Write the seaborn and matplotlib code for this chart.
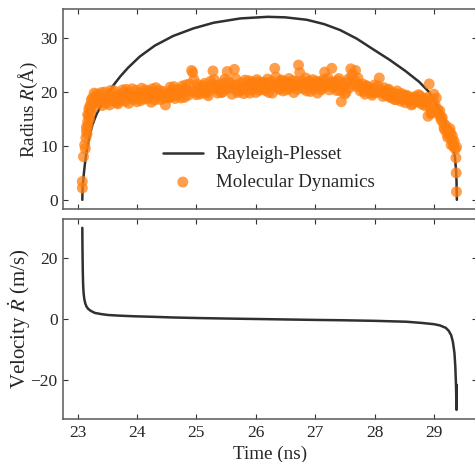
import matplotlib
matplotlib.use("Agg")
import matplotlib.pyplot as plt
import seaborn as sns
import pandas as pd

# ---------------- data ----------------
# Rayleigh-Plesset radius curve (Time ns, Radius Å)
rp_time = [23.08, 23.083, 23.09, 23.10, 23.12, 23.14, 23.165, 23.20, 23.25, 23.32,
           23.40, 23.50, 23.60, 23.72, 23.85, 24.05, 24.30, 24.61, 24.95, 25.29,
           25.74, 26.20, 26.50, 26.86, 27.15, 27.42, 27.70, 27.98, 28.25, 28.52,
           28.75, 28.91, 29.05, 29.15, 29.22, 29.28, 29.33, 29.355, 29.37, 29.38,
           29.386]
rp_radius = [0.0, 1.5, 3.0, 4.2, 6.3, 8.1, 9.8, 11.8, 13.9, 15.9,
             17.6, 19.5, 21.2, 22.9, 24.5, 26.6, 28.6, 30.4, 31.8, 32.85,
             33.65, 33.95, 33.85, 33.4, 32.6, 31.5, 29.9, 27.9, 26.0, 23.9,
             21.9, 20.1, 17.6, 15.5, 13.6, 11.7, 9.6, 7.8, 5.8, 3.5,
             0.0]

# Rayleigh-Plesset velocity curve (Time ns, Velocity m/s)
vel_time = [23.08, 23.082, 23.085, 23.088, 23.092, 23.097, 23.105, 23.115, 23.13, 23.15,
            23.18, 23.22, 23.29, 23.40, 23.52, 23.70, 23.94, 24.30, 24.60, 25.06,
            25.50, 26.00, 26.50, 27.00, 27.42, 28.00, 28.54, 28.80, 29.00, 29.10,
            29.20, 29.25, 29.29, 29.32, 29.345, 29.36, 29.372, 29.38, 29.383]
vel_value = [30.0, 25.0, 20.0, 16.0, 12.5, 10.0, 8.0, 6.5, 5.2, 4.2,
             3.4, 2.8, 2.1, 1.7, 1.4, 1.2, 1.0, 0.8, 0.6, 0.4,
             0.25, 0.1, -0.05, -0.2, -0.3, -0.5, -0.8, -1.2, -1.6, -2.0,
             -2.8, -3.8, -5.2, -7.5, -11.0, -15.5, -22.0, -29.7, -21.5]

# Molecular Dynamics radius samples (Time ns, Radius Å)
md_time = [23.08, 23.08, 23.10, 23.12, 23.13, 23.14, 23.15, 23.16, 23.17, 23.18,
           23.19, 23.20, 23.21, 23.22, 23.24, 23.26, 23.28, 23.30,
           23.15, 23.17, 23.19, 23.21, 23.23, 23.25, 23.27,
           23.32, 23.36, 23.40, 23.44, 23.48, 23.52, 23.56, 23.60, 23.64, 23.68,
           23.72, 23.76, 23.80, 23.84, 23.88, 23.92, 23.96, 24.00, 24.04, 24.08,
           24.12, 24.16, 24.20, 24.24, 24.28, 24.32, 24.36, 24.40, 24.44, 24.48,
           24.52, 24.56, 24.60, 24.64, 24.68, 24.72, 24.76, 24.80, 24.84, 24.88,
           24.92, 24.96, 25.00, 25.04, 25.08, 25.12, 25.16, 25.20, 25.24, 25.28,
           25.32, 25.36, 25.40, 25.44, 25.48, 25.52, 25.56, 25.60, 25.64, 25.68,
           25.72, 25.76, 25.80, 25.84, 25.88, 25.92, 25.96, 26.00, 26.04, 26.08,
           26.12, 26.16, 26.20, 26.24, 26.28, 26.32, 26.36, 26.40, 26.44, 26.48,
           26.52, 26.56, 26.60, 26.64, 26.68, 26.72, 26.76, 26.80, 26.84, 26.88,
           26.92, 26.96, 27.00, 27.04, 27.08, 27.12, 27.16, 27.20, 27.24, 27.28,
           27.32, 27.36, 27.40, 27.44, 27.48, 27.52, 27.56, 27.60, 27.64, 27.68,
           27.72, 27.76, 27.80, 27.84, 27.88, 27.92, 27.96, 28.00, 28.04, 28.08,
           28.12, 28.16, 28.20, 28.24, 28.28, 28.32, 28.36, 28.40, 28.44, 28.48,
           28.52, 28.56, 28.60, 28.64, 28.68, 28.72, 28.76, 28.80, 28.84, 28.88,
           28.92, 28.96,
           23.34, 23.38, 23.42, 23.46, 23.50, 23.54, 23.58, 23.62, 23.66, 23.70,
           23.74, 23.78, 23.82, 23.86, 23.90, 23.94, 23.98, 24.02, 24.06, 24.10,
           24.14, 24.18, 24.22, 24.26, 24.30, 24.34, 24.38, 24.42, 24.46, 24.50,
           24.54, 24.58, 24.62, 24.66, 24.70, 24.74, 24.78, 24.82, 24.86, 24.90,
           24.94, 24.98, 25.02, 25.06, 25.10, 25.14, 25.18, 25.22, 25.26, 25.30,
           25.34, 25.38, 25.42, 25.46, 25.50, 25.54, 25.58, 25.62, 25.66, 25.70,
           25.74, 25.78, 25.82, 25.86, 25.90, 25.94, 25.98, 26.02, 26.06, 26.10,
           26.14, 26.18, 26.22, 26.26, 26.30, 26.34, 26.38, 26.42, 26.46, 26.50,
           26.54, 26.58, 26.62, 26.66, 26.70, 26.74, 26.78, 26.82, 26.86, 26.90,
           26.94, 26.98, 27.02, 27.06, 27.10, 27.14, 27.18, 27.22, 27.26, 27.30,
           27.34, 27.38, 27.42, 27.46, 27.50, 27.54, 27.58, 27.62, 27.66, 27.70,
           27.74, 27.78, 27.82, 27.86, 27.90, 27.94, 27.98, 28.02, 28.06, 28.10,
           28.14, 28.18, 28.22, 28.26, 28.30, 28.34, 28.38, 28.42, 28.46, 28.50,
           28.54, 28.58, 28.62, 28.66, 28.70, 28.74, 28.78, 28.82, 28.86, 28.90,
           28.94,
           28.90, 28.95, 28.98, 29.00, 29.02, 29.04, 29.06, 29.08, 29.10, 29.12,
           29.14, 29.16, 29.18, 29.20, 29.22, 29.24, 29.26, 29.28, 29.30, 29.32,
           29.34, 29.36, 29.37, 29.375, 29.38, 29.38,
           29.11, 29.17, 29.23, 29.27, 29.29, 29.31, 29.33]
md_radius = [2.2, 3.4, 8.0, 10.2, 9.5, 11.5, 12.8, 12.2, 14.5, 13.8,
             15.6, 15.0, 16.8, 16.2, 17.8, 17.0, 19.8, 18.2,
             13.5, 15.8, 16.9, 17.5, 18.5, 18.9, 18.0,
             19.6, 18.0, 19.9, 18.6, 17.9, 19.4, 20.3, 18.4, 19.1, 17.8,
             19.2, 20.4, 18.3, 19.7, 18.9, 20.6, 19.0, 18.2, 19.8, 20.7,
             18.7, 19.5, 20.2, 18.1, 19.9, 20.8, 19.3, 18.6, 20.1, 17.6,
             19.8, 20.9, 19.2, 18.8, 20.5, 19.6, 21.1, 19.0, 20.3, 21.5,
             24.0, 22.3, 19.5, 20.8, 19.9, 21.2, 20.1, 19.3, 22.0, 23.9,
             20.6, 19.8, 21.4, 20.0, 22.4, 23.8, 20.9, 19.6, 24.2, 21.3,
             20.2, 21.7, 19.7, 20.8, 22.1, 20.4, 21.5, 19.9, 21.9, 20.6,
             21.8, 20.3, 22.4, 21.0, 19.8, 24.4, 21.6, 20.5, 22.2, 21.1,
             20.4, 22.5, 21.3, 19.9, 22.0, 25.0, 21.2, 20.6, 22.6, 21.4,
             20.1, 22.3, 21.0, 19.8, 21.9, 20.7, 23.7, 21.5, 20.4, 24.4,
             21.8, 20.3, 22.5, 18.2, 21.2, 20.0, 22.4, 24.3, 21.4, 24.0,
             22.6, 20.2, 21.5, 19.6, 21.0, 20.3, 19.4, 21.3, 20.0, 22.6,
             19.9, 20.8, 19.3, 20.5, 18.9, 19.8, 18.6, 19.6, 18.3, 19.4,
             18.0, 19.2, 18.5, 17.8, 19.0, 18.2, 19.3, 17.7, 18.8, 18.1,
             21.5, 16.2,
             18.6, 19.4, 17.5, 20.0, 18.8, 17.6, 19.0, 20.2, 18.0, 19.5,
             18.5, 19.9, 20.5, 17.9, 19.4, 18.6, 20.3, 19.3, 18.4, 19.6,
             20.4, 18.8, 19.3, 20.6, 18.5, 19.7, 20.3, 19.5, 18.9, 19.2,
             18.9, 20.3, 21.0, 19.5, 20.0, 18.9, 20.4, 21.3, 19.4, 20.1,
             23.6, 20.0, 21.4, 19.6, 20.9, 21.6, 19.8, 20.7, 21.3, 22.3,
             21.2, 20.4, 19.9, 21.7, 20.5, 21.9, 21.5, 20.6, 22.5, 19.9,
             21.0, 20.4, 22.2, 21.3, 19.8, 21.9, 20.8, 22.3, 20.3, 21.6,
             20.6, 21.7, 19.9, 22.0, 21.4, 22.8, 20.7, 22.1, 20.2, 21.9,
             21.6, 20.7, 22.1, 21.2, 20.5, 23.6, 22.0, 21.6, 20.2, 22.0,
             21.4, 20.6, 22.0, 21.6, 20.4, 22.3, 21.0, 22.6, 21.8, 20.9,
             21.1, 22.1, 20.2, 21.6, 19.6, 21.8, 20.8, 23.2, 22.2, 21.0,
             21.4, 20.9, 20.1, 21.2, 20.6, 19.8, 20.7, 19.9, 21.1, 20.3,
             19.2, 20.1, 20.4, 19.1, 19.9, 18.6, 20.2, 18.9, 19.7, 18.7,
             19.4, 18.4, 17.6, 19.1, 18.3, 19.5, 18.0, 18.9, 17.4, 19.0,
             17.0,
             15.5, 16.0, 18.5, 19.6, 17.6, 18.9, 16.8, 15.9, 16.5, 14.8,
             15.3, 14.2, 13.0, 13.8, 12.3, 12.9, 11.8, 12.4, 11.2, 10.5,
             10.9, 9.4, 7.8, 5.0, 9.8, 1.5,
             15.4, 13.4, 11.6, 13.2, 10.2, 11.9, 9.9]

x_ticks = [23, 24, 25, 26, 27, 28, 29]
r_ticks = [0, 10, 20, 30]
v_ticks = [-20, 0, 20]

# ---------------- styling ----------------
sns.set_theme(style="ticks")
plt.rcParams["font.family"] = ["Liberation Serif", "DejaVu Serif"]
plt.rcParams["mathtext.fontset"] = "stix"

line_color = "#303030"
dot_color = "#ff7f0e"
spine_color = "0.35"
fs_tick = 12.5
fs_label = 13.8
fs_leg = 13.6

rp_df = pd.DataFrame({"t": rp_time, "R": rp_radius})
vel_df = pd.DataFrame({"t": vel_time, "v": vel_value})
md_df = pd.DataFrame({"t": md_time, "R": md_radius})

W, H = 475, 462
fig = plt.figure(figsize=(W / 100, H / 100), dpi=100)
left = 63.3 / W
width = 413.4 / W
ax1 = fig.add_axes([left, (H - 209) / H, width, 200 / H])
ax2 = fig.add_axes([left, (H - 419) / H, width, 199.7 / H])

sns.scatterplot(data=md_df, x="t", y="R", ax=ax1, color=dot_color, s=62,
                alpha=0.75, edgecolor="none", label="Molecular Dynamics", zorder=3)
sns.lineplot(data=rp_df, x="t", y="R", ax=ax1, color=line_color, lw=1.8,
             estimator=None, sort=False, label="Rayleigh-Plesset", zorder=2)
sns.lineplot(data=vel_df, x="t", y="v", ax=ax2, color=line_color, lw=1.8,
             estimator=None, sort=False)

for ax in (ax1, ax2):
    ax.set_xlim(22.76, 29.72)
    ax.set_xticks(x_ticks)
    ax.tick_params(direction="in", top=True, right=True, length=3.5, width=0.8,
                   color="0.2", labelsize=fs_tick, pad=4)
    for sp in ax.spines.values():
        sp.set_color(spine_color)
        sp.set_linewidth(1.1)

ax1.set_ylim(-1.7, 35.4)
ax1.set_yticks(r_ticks)
ax1.set_xticklabels([])
ax1.set_xlabel("")
ax1.set_ylabel("Radius $R$(Å)", fontsize=fs_label, labelpad=0)

ax2.set_ylim(-32.7, 32.8)
ax2.set_yticks(v_ticks)
ax2.set_xticklabels([str(t) for t in x_ticks])
ax2.set_xlabel("Time (ns)", fontsize=fs_label, labelpad=4)
ax2.set_ylabel("Velocity $\\dot{R}$ (m/s)", fontsize=15, labelpad=-2)

handles, labels = ax1.get_legend_handles_labels()
order = [labels.index("Rayleigh-Plesset"), labels.index("Molecular Dynamics")]
leg = ax1.legend([handles[i] for i in order], [labels[i] for i in order],
                 loc="lower left", bbox_to_anchor=(0.20, 0.005), frameon=False,
                 fontsize=fs_leg, handlelength=2.1, handletextpad=0.7,
                 labelspacing=0.55, markerscale=1.0)

fig.savefig("out.png", dpi=100)
